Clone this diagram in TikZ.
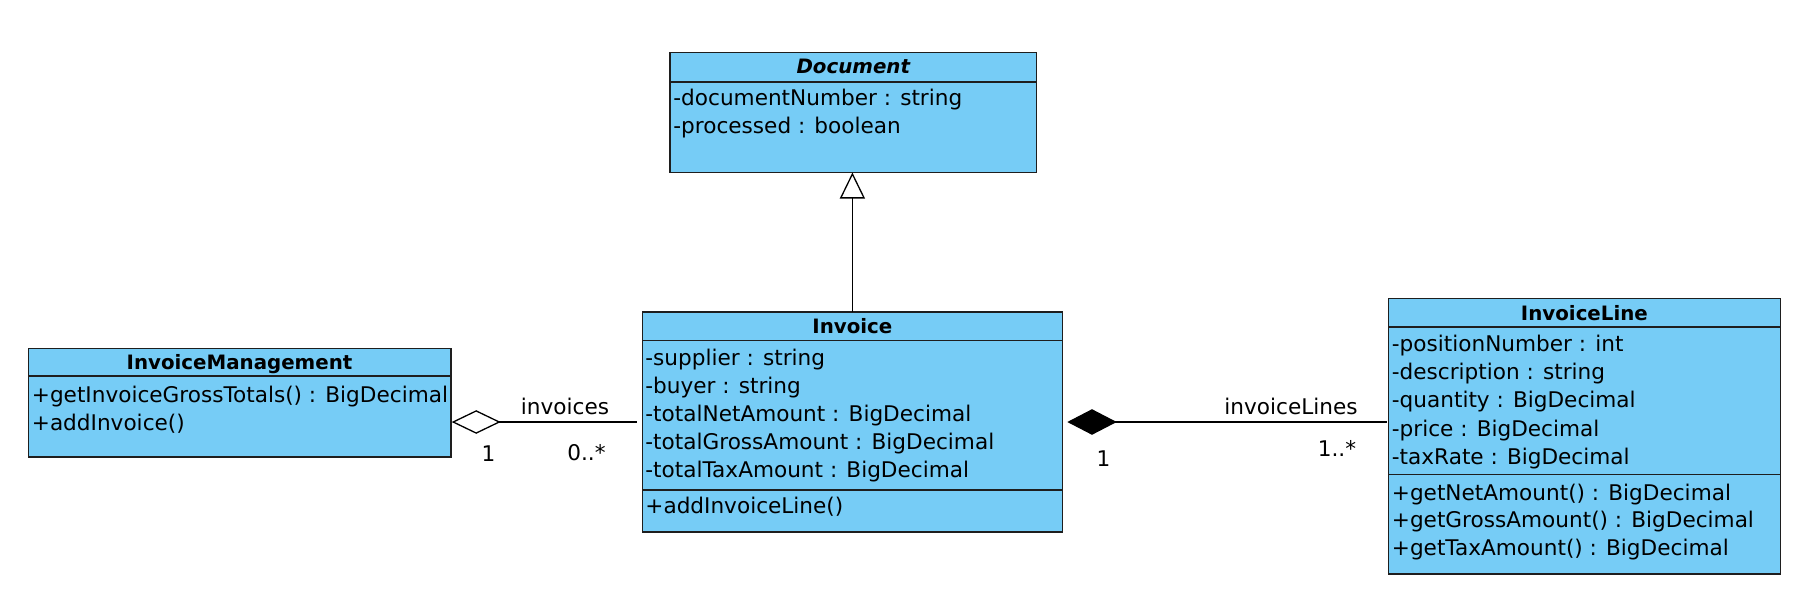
\documentclass[tikz,border=0pt]{standalone}
\usepackage{fontspec}
\setmainfont{DejaVu Sans}
\usetikzlibrary{arrows.meta,calc}
\definecolor{clsfill}{RGB}{118,204,246}
\definecolor{clsline}{RGB}{30,30,30}
\begin{document}
\begin{tikzpicture}[x=0.5pt,y=-0.5pt,
  cls/.style={draw=clsline, fill=clsfill, line width=0.8pt, anchor=north west, inner sep=0pt, outer sep=0pt},
  title/.style={anchor=base, inner sep=0pt, font=\fontsize{9.9}{12}\selectfont\bfseries},
  member/.style={anchor=base west, inner sep=0pt, font=\fontsize{10.8}{13}\selectfont},
  lbl/.style={anchor=base, inner sep=0pt, font=\fontsize{10.8}{13}\selectfont},
  divider/.style={draw=clsline, line width=0.8pt},
  assoc/.style={draw=black, line width=0.65pt}]
\useasboundingbox (0,0) rectangle (1810,600);

% Document
\node[cls, minimum width=183.25pt, minimum height=60.1pt] (doc) at (670,52.3) {};
\node[title, font=\fontsize{9.9}{12}\selectfont\bfseries\itshape] (doct) at (853.3,73.3) {Document};
\draw[divider] ($(doc.north west)+(0,29.4)$) -- ($(doc.north east)+(0,29.4)$);
\node[member] (doca1) at (673,105) {-documentNumber : string};
\node[member] (doca2) at (673,133.3) {-processed : boolean};

% Invoice
\node[cls, minimum width=210.1pt, minimum height=110pt] (inv) at (642.3,312) {};
\node[title] (invt) at (852.4,333.3) {Invoice};
\draw[divider] ($(inv.north west)+(0,28.5)$) -- ($(inv.north east)+(0,28.5)$);
\node[member] (inva1) at (645,365) {-supplier : string};
\node[member] (inva2) at (645,393.2) {-buyer : string};
\node[member] (inva3) at (645,421.4) {-totalNetAmount : BigDecimal};
\node[member] (inva4) at (645,449.5) {-totalGrossAmount : BigDecimal};
\node[member] (inva5) at (645,477.5) {-totalTaxAmount : BigDecimal};
\draw[divider] ($(inv.north west)+(0,178)$) -- ($(inv.north east)+(0,178)$);
\node[member] (invm1) at (645,513.5) {+addInvoiceLine()};

% InvoiceManagement
\node[cls, minimum width=211.2pt, minimum height=54.2pt] (mgmt) at (28.3,348.3) {};
\node[title] (mgmtt) at (239.5,369.3) {InvoiceManagement};
\draw[divider] ($(mgmt.north west)+(0,27.7)$) -- ($(mgmt.north east)+(0,27.7)$);
\node[member] (mgmtm1) at (31.5,402.5) {+getInvoiceGrossTotals() : BigDecimal};
\node[member] (mgmtm2) at (31.5,430.2) {+addInvoice()};

% InvoiceLine
\node[cls, minimum width=196.1pt, minimum height=137.85pt] (line) at (1388.3,298.3) {};
\node[title] (linet) at (1584.4,320) {InvoiceLine};
\draw[divider] ($(line.north west)+(0,28.4)$) -- ($(line.north east)+(0,28.4)$);
\node[member] (linea1) at (1391.5,351.7) {-positionNumber : int};
\node[member] (linea2) at (1391.5,379.8) {-description : string};
\node[member] (linea3) at (1391.5,407.9) {-quantity : BigDecimal};
\node[member] (linea4) at (1391.5,436) {-price : BigDecimal};
\node[member] (linea5) at (1391.5,464.1) {-taxRate : BigDecimal};
\draw[divider] ($(line.north west)+(0,176)$) -- ($(line.north east)+(0,176)$);
\node[member] (linem1) at (1391.5,500) {+getNetAmount() : BigDecimal};
\node[member] (linem2) at (1391.5,527.5) {+getGrossAmount() : BigDecimal};
\node[member] (linem3) at (1391.5,555) {+getTaxAmount() : BigDecimal};

% Generalization
\draw[assoc, -{Triangle[open, length=13pt, width=12.5pt, fill=white]}] (inv.north) -- (inv.north |- doc.south);

% Aggregation
\draw[assoc, {Diamond[open, length=24.5pt, width=11.8pt, fill=white]}-]
  ($(mgmt.east |- inv.west)+(1,0)$) -- ($(inv.west)+(-5.5,0)$);
\node[lbl] (aggname) at (565,414) {invoices};
\node[lbl] (aggm1) at (488.5,461.7) {1};
\node[lbl] (aggm2) at (586.5,460) {0..*};

% Composition
\draw[assoc, {Diamond[length=24.7pt, width=12.8pt]}-]
  ($(inv.east)+(4.8,0)$) -- ($(inv.east -| line.west)+(-1.5,0)$);
\node[lbl] (compname) at (1291,414) {invoiceLines};
\node[lbl] (compm1) at (1103.5,466) {1};
\node[lbl] (compm2) at (1337,456) {1..*};
\end{tikzpicture}
\end{document}
